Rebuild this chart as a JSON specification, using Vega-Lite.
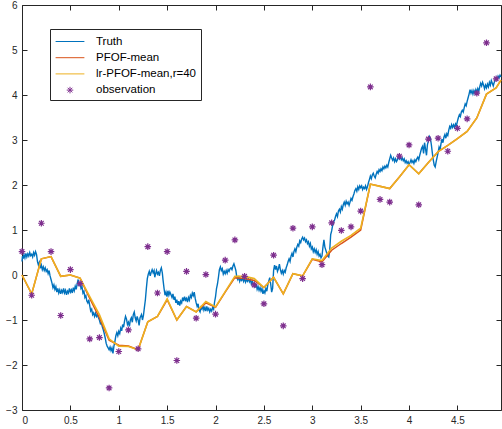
{
"$schema": "https://vega.github.io/schema/vega-lite/v6.json",
"width": 479, "height": 405,
"autosize": "none",
"padding": {"left": 22, "top": 5, "right": 1, "bottom": 19},
"background": "white",
"config": {
  "view": {"stroke": null},
  "font": "Liberation Sans",
  "axis": {"grid": false, "title": null, "domainColor": "#262626", "domainWidth": 1, "tickColor": "#262626", "tickWidth": 1, "tickSize": -5, "labelColor": "#262626", "labelFont": "Liberation Sans", "labelFontSize": 10, "format": "~g"},
  "legend": {"orient": "none", "legendX": 28, "legendY": 24, "title": null, "strokeColor": "#262626", "fillColor": "white", "padding": 4, "labelFont": "Liberation Sans", "labelFontSize": 11.5, "labelColor": "#000000", "symbolSize": 256, "symbolStrokeWidth": 1, "rowPadding": 2.2, "labelOffset": 17.5, "symbolOffset": 7.5}
},
"datasets": {
"truth": [
{"t":0.000,"y":0.30},{"t":0.005,"y":0.42},{"t":0.010,"y":0.36},{"t":0.020,"y":0.45},{"t":0.030,"y":0.38},{"t":0.040,"y":0.48},{"t":0.050,"y":0.40},{"t":0.060,"y":0.47},{"t":0.070,"y":0.42},{"t":0.080,"y":0.50},{"t":0.090,"y":0.43},{"t":0.100,"y":0.46},{"t":0.110,"y":0.40},{"t":0.120,"y":0.50},{"t":0.130,"y":0.44},{"t":0.140,"y":0.52},{"t":0.150,"y":0.46},{"t":0.160,"y":0.30},{"t":0.170,"y":0.22},{"t":0.180,"y":0.28},{"t":0.190,"y":0.15},{"t":0.200,"y":0.22},{"t":0.210,"y":0.12},{"t":0.220,"y":0.18},{"t":0.230,"y":0.10},{"t":0.240,"y":0.16},{"t":0.250,"y":0.08},{"t":0.260,"y":0.12},{"t":0.270,"y":0.03},{"t":0.280,"y":0.10},{"t":0.290,"y":-0.02},{"t":0.300,"y":-0.10},{"t":0.310,"y":-0.18},{"t":0.320,"y":-0.28},{"t":0.330,"y":-0.22},{"t":0.340,"y":-0.32},{"t":0.350,"y":-0.26},{"t":0.360,"y":-0.38},{"t":0.370,"y":-0.30},{"t":0.380,"y":-0.40},{"t":0.390,"y":-0.33},{"t":0.400,"y":-0.42},{"t":0.410,"y":-0.34},{"t":0.420,"y":-0.39},{"t":0.430,"y":-0.30},{"t":0.440,"y":-0.40},{"t":0.450,"y":-0.34},{"t":0.460,"y":-0.44},{"t":0.470,"y":-0.36},{"t":0.480,"y":-0.40},{"t":0.490,"y":-0.30},{"t":0.500,"y":-0.38},{"t":0.510,"y":-0.33},{"t":0.520,"y":-0.40},{"t":0.530,"y":-0.28},{"t":0.540,"y":-0.35},{"t":0.550,"y":-0.25},{"t":0.560,"y":-0.32},{"t":0.570,"y":-0.20},{"t":0.580,"y":-0.10},{"t":0.590,"y":-0.22},{"t":0.600,"y":-0.18},{"t":0.610,"y":-0.30},{"t":0.620,"y":-0.26},{"t":0.630,"y":-0.40},{"t":0.640,"y":-0.36},{"t":0.650,"y":-0.50},{"t":0.660,"y":-0.46},{"t":0.670,"y":-0.58},{"t":0.680,"y":-0.62},{"t":0.690,"y":-0.55},{"t":0.700,"y":-0.68},{"t":0.710,"y":-0.80},{"t":0.720,"y":-0.76},{"t":0.730,"y":-0.88},{"t":0.740,"y":-0.84},{"t":0.750,"y":-0.92},{"t":0.760,"y":-0.85},{"t":0.770,"y":-0.92},{"t":0.780,"y":-0.88},{"t":0.790,"y":-0.95},{"t":0.800,"y":-1.00},{"t":0.810,"y":-1.08},{"t":0.820,"y":-1.05},{"t":0.830,"y":-1.15},{"t":0.840,"y":-1.22},{"t":0.850,"y":-1.30},{"t":0.860,"y":-1.40},{"t":0.870,"y":-1.52},{"t":0.880,"y":-1.58},{"t":0.890,"y":-1.62},{"t":0.900,"y":-1.66},{"t":0.910,"y":-1.60},{"t":0.920,"y":-1.68},{"t":0.930,"y":-1.62},{"t":0.940,"y":-1.74},{"t":0.950,"y":-1.58},{"t":0.960,"y":-1.48},{"t":0.970,"y":-1.35},{"t":0.980,"y":-1.28},{"t":0.990,"y":-1.35},{"t":1.000,"y":-1.25},{"t":1.010,"y":-1.30},{"t":1.020,"y":-1.18},{"t":1.030,"y":-1.24},{"t":1.040,"y":-1.10},{"t":1.050,"y":-1.16},{"t":1.060,"y":-1.02},{"t":1.070,"y":-0.92},{"t":1.080,"y":-0.98},{"t":1.090,"y":-1.10},{"t":1.100,"y":-1.05},{"t":1.110,"y":-1.14},{"t":1.120,"y":-1.00},{"t":1.130,"y":-0.95},{"t":1.140,"y":-1.05},{"t":1.150,"y":-0.88},{"t":1.160,"y":-0.82},{"t":1.170,"y":-0.95},{"t":1.180,"y":-1.02},{"t":1.190,"y":-0.92},{"t":1.200,"y":-1.00},{"t":1.210,"y":-1.12},{"t":1.220,"y":-0.95},{"t":1.235,"y":-0.88},{"t":1.245,"y":-1.00},{"t":1.255,"y":-0.90},{"t":1.265,"y":-0.72},{"t":1.275,"y":-0.55},{"t":1.285,"y":-0.30},{"t":1.295,"y":-0.08},{"t":1.305,"y":0.02},{"t":1.315,"y":0.08},{"t":1.325,"y":-0.02},{"t":1.335,"y":0.06},{"t":1.345,"y":0.12},{"t":1.355,"y":0.05},{"t":1.365,"y":0.10},{"t":1.372,"y":-0.05},{"t":1.380,"y":0.02},{"t":1.390,"y":0.10},{"t":1.400,"y":0.02},{"t":1.410,"y":0.06},{"t":1.420,"y":-0.02},{"t":1.430,"y":0.10},{"t":1.440,"y":0.16},{"t":1.450,"y":0.05},{"t":1.458,"y":-0.12},{"t":1.468,"y":-0.30},{"t":1.478,"y":-0.45},{"t":1.488,"y":-0.38},{"t":1.498,"y":-0.48},{"t":1.508,"y":-0.35},{"t":1.518,"y":-0.45},{"t":1.528,"y":-0.38},{"t":1.540,"y":-0.44},{"t":1.550,"y":-0.50},{"t":1.560,"y":-0.42},{"t":1.570,"y":-0.55},{"t":1.580,"y":-0.48},{"t":1.590,"y":-0.62},{"t":1.600,"y":-0.55},{"t":1.610,"y":-0.66},{"t":1.620,"y":-0.58},{"t":1.630,"y":-0.68},{"t":1.640,"y":-0.58},{"t":1.650,"y":-0.62},{"t":1.660,"y":-0.50},{"t":1.670,"y":-0.58},{"t":1.680,"y":-0.48},{"t":1.690,"y":-0.56},{"t":1.700,"y":-0.52},{"t":1.710,"y":-0.60},{"t":1.720,"y":-0.50},{"t":1.730,"y":-0.56},{"t":1.740,"y":-0.45},{"t":1.750,"y":-0.50},{"t":1.760,"y":-0.40},{"t":1.770,"y":-0.46},{"t":1.780,"y":-0.38},{"t":1.790,"y":-0.52},{"t":1.800,"y":-0.62},{"t":1.810,"y":-0.70},{"t":1.820,"y":-0.64},{"t":1.830,"y":-0.78},{"t":1.840,"y":-0.82},{"t":1.850,"y":-0.72},{"t":1.860,"y":-0.76},{"t":1.870,"y":-0.68},{"t":1.880,"y":-0.78},{"t":1.890,"y":-0.72},{"t":1.900,"y":-0.80},{"t":1.910,"y":-0.70},{"t":1.920,"y":-0.78},{"t":1.930,"y":-0.74},{"t":1.940,"y":-0.82},{"t":1.950,"y":-0.76},{"t":1.960,"y":-0.80},{"t":1.970,"y":-0.72},{"t":1.980,"y":-0.76},{"t":1.990,"y":-0.60},{"t":2.000,"y":-0.48},{"t":2.010,"y":-0.30},{"t":2.020,"y":-0.20},{"t":2.030,"y":-0.05},{"t":2.040,"y":0.12},{"t":2.050,"y":0.18},{"t":2.060,"y":0.10},{"t":2.070,"y":0.14},{"t":2.080,"y":0.02},{"t":2.090,"y":0.08},{"t":2.100,"y":0.03},{"t":2.110,"y":0.10},{"t":2.120,"y":0.04},{"t":2.130,"y":0.12},{"t":2.140,"y":0.08},{"t":2.150,"y":0.14},{"t":2.160,"y":0.16},{"t":2.170,"y":0.12},{"t":2.180,"y":0.20},{"t":2.190,"y":0.25},{"t":2.200,"y":0.18},{"t":2.210,"y":0.10},{"t":2.220,"y":-0.05},{"t":2.230,"y":-0.10},{"t":2.240,"y":-0.02},{"t":2.250,"y":-0.14},{"t":2.260,"y":-0.08},{"t":2.270,"y":-0.12},{"t":2.280,"y":-0.06},{"t":2.290,"y":-0.14},{"t":2.300,"y":-0.08},{"t":2.310,"y":-0.16},{"t":2.320,"y":-0.10},{"t":2.330,"y":-0.14},{"t":2.340,"y":-0.08},{"t":2.350,"y":-0.15},{"t":2.360,"y":-0.10},{"t":2.370,"y":-0.20},{"t":2.380,"y":-0.14},{"t":2.390,"y":-0.22},{"t":2.400,"y":-0.18},{"t":2.410,"y":-0.28},{"t":2.420,"y":-0.20},{"t":2.430,"y":-0.32},{"t":2.440,"y":-0.26},{"t":2.450,"y":-0.34},{"t":2.460,"y":-0.28},{"t":2.470,"y":-0.36},{"t":2.480,"y":-0.30},{"t":2.490,"y":-0.42},{"t":2.500,"y":-0.35},{"t":2.510,"y":-0.40},{"t":2.520,"y":-0.30},{"t":2.530,"y":-0.36},{"t":2.540,"y":-0.22},{"t":2.550,"y":-0.14},{"t":2.560,"y":-0.06},{"t":2.570,"y":-0.20},{"t":2.580,"y":-0.38},{"t":2.590,"y":-0.30},{"t":2.600,"y":0.10},{"t":2.610,"y":0.22},{"t":2.620,"y":0.12},{"t":2.630,"y":0.20},{"t":2.640,"y":0.08},{"t":2.650,"y":0.14},{"t":2.660,"y":0.24},{"t":2.670,"y":0.12},{"t":2.680,"y":0.04},{"t":2.690,"y":0.10},{"t":2.700,"y":0.02},{"t":2.710,"y":0.10},{"t":2.720,"y":0.06},{"t":2.730,"y":0.16},{"t":2.740,"y":0.22},{"t":2.750,"y":0.30},{"t":2.760,"y":0.36},{"t":2.770,"y":0.30},{"t":2.780,"y":0.42},{"t":2.790,"y":0.48},{"t":2.800,"y":0.40},{"t":2.810,"y":0.52},{"t":2.820,"y":0.58},{"t":2.830,"y":0.52},{"t":2.840,"y":0.62},{"t":2.850,"y":0.68},{"t":2.860,"y":0.64},{"t":2.870,"y":0.76},{"t":2.880,"y":0.72},{"t":2.890,"y":0.80},{"t":2.900,"y":0.84},{"t":2.910,"y":0.78},{"t":2.920,"y":0.82},{"t":2.930,"y":0.74},{"t":2.940,"y":0.78},{"t":2.950,"y":0.70},{"t":2.960,"y":0.74},{"t":2.970,"y":0.64},{"t":2.980,"y":0.70},{"t":2.990,"y":0.58},{"t":3.000,"y":0.62},{"t":3.010,"y":0.52},{"t":3.020,"y":0.58},{"t":3.030,"y":0.50},{"t":3.040,"y":0.56},{"t":3.050,"y":0.46},{"t":3.060,"y":0.52},{"t":3.070,"y":0.42},{"t":3.080,"y":0.46},{"t":3.090,"y":0.38},{"t":3.100,"y":0.42},{"t":3.110,"y":0.62},{"t":3.120,"y":0.78},{"t":3.130,"y":0.62},{"t":3.140,"y":0.55},{"t":3.150,"y":0.48},{"t":3.160,"y":0.42},{"t":3.170,"y":0.40},{"t":3.180,"y":0.55},{"t":3.190,"y":0.90},{"t":3.200,"y":0.98},{"t":3.210,"y":1.10},{"t":3.220,"y":1.18},{"t":3.230,"y":1.22},{"t":3.240,"y":1.30},{"t":3.250,"y":1.36},{"t":3.260,"y":1.30},{"t":3.270,"y":1.42},{"t":3.280,"y":1.46},{"t":3.290,"y":1.40},{"t":3.300,"y":1.52},{"t":3.310,"y":1.46},{"t":3.320,"y":1.56},{"t":3.330,"y":1.62},{"t":3.340,"y":1.55},{"t":3.350,"y":1.64},{"t":3.360,"y":1.58},{"t":3.370,"y":1.62},{"t":3.380,"y":1.55},{"t":3.390,"y":1.62},{"t":3.400,"y":1.70},{"t":3.410,"y":1.66},{"t":3.420,"y":1.74},{"t":3.430,"y":1.80},{"t":3.440,"y":1.88},{"t":3.450,"y":1.92},{"t":3.460,"y":1.86},{"t":3.470,"y":1.96},{"t":3.480,"y":1.90},{"t":3.490,"y":1.98},{"t":3.500,"y":1.94},{"t":3.510,"y":1.98},{"t":3.520,"y":1.90},{"t":3.530,"y":1.95},{"t":3.540,"y":1.92},{"t":3.550,"y":1.98},{"t":3.560,"y":1.90},{"t":3.570,"y":1.96},{"t":3.580,"y":2.05},{"t":3.590,"y":2.12},{"t":3.600,"y":2.20},{"t":3.610,"y":2.14},{"t":3.620,"y":2.22},{"t":3.630,"y":2.26},{"t":3.640,"y":2.20},{"t":3.650,"y":2.16},{"t":3.660,"y":2.24},{"t":3.670,"y":2.30},{"t":3.680,"y":2.26},{"t":3.690,"y":2.34},{"t":3.700,"y":2.30},{"t":3.710,"y":2.36},{"t":3.720,"y":2.32},{"t":3.730,"y":2.40},{"t":3.740,"y":2.36},{"t":3.750,"y":2.42},{"t":3.760,"y":2.38},{"t":3.770,"y":2.44},{"t":3.780,"y":2.40},{"t":3.790,"y":2.50},{"t":3.800,"y":2.58},{"t":3.810,"y":2.66},{"t":3.820,"y":2.60},{"t":3.830,"y":2.55},{"t":3.840,"y":2.60},{"t":3.850,"y":2.52},{"t":3.860,"y":2.58},{"t":3.870,"y":2.52},{"t":3.880,"y":2.56},{"t":3.890,"y":2.64},{"t":3.900,"y":2.58},{"t":3.910,"y":2.62},{"t":3.920,"y":2.56},{"t":3.930,"y":2.60},{"t":3.940,"y":2.54},{"t":3.950,"y":2.58},{"t":3.960,"y":2.50},{"t":3.970,"y":2.54},{"t":3.980,"y":2.48},{"t":3.990,"y":2.52},{"t":4.000,"y":2.46},{"t":4.010,"y":2.50},{"t":4.020,"y":2.56},{"t":4.030,"y":2.50},{"t":4.040,"y":2.54},{"t":4.050,"y":2.48},{"t":4.060,"y":2.56},{"t":4.070,"y":2.52},{"t":4.080,"y":2.58},{"t":4.090,"y":2.62},{"t":4.100,"y":2.56},{"t":4.110,"y":2.66},{"t":4.120,"y":2.74},{"t":4.130,"y":2.82},{"t":4.140,"y":2.86},{"t":4.150,"y":2.70},{"t":4.160,"y":2.94},{"t":4.170,"y":2.80},{"t":4.180,"y":2.66},{"t":4.190,"y":2.90},{"t":4.200,"y":2.98},{"t":4.210,"y":3.08},{"t":4.220,"y":3.04},{"t":4.230,"y":2.90},{"t":4.240,"y":2.72},{"t":4.250,"y":2.56},{"t":4.260,"y":2.44},{"t":4.270,"y":2.40},{"t":4.280,"y":2.52},{"t":4.290,"y":2.62},{"t":4.300,"y":2.72},{"t":4.310,"y":2.84},{"t":4.320,"y":2.78},{"t":4.330,"y":2.92},{"t":4.340,"y":3.02},{"t":4.350,"y":2.94},{"t":4.360,"y":3.06},{"t":4.370,"y":3.12},{"t":4.380,"y":3.04},{"t":4.390,"y":3.14},{"t":4.400,"y":3.10},{"t":4.410,"y":3.22},{"t":4.420,"y":3.30},{"t":4.430,"y":3.26},{"t":4.440,"y":3.34},{"t":4.450,"y":3.28},{"t":4.460,"y":3.34},{"t":4.470,"y":3.28},{"t":4.480,"y":3.36},{"t":4.490,"y":3.32},{"t":4.500,"y":3.42},{"t":4.510,"y":3.50},{"t":4.520,"y":3.56},{"t":4.530,"y":3.52},{"t":4.540,"y":3.62},{"t":4.550,"y":3.66},{"t":4.560,"y":3.62},{"t":4.570,"y":3.72},{"t":4.580,"y":3.80},{"t":4.590,"y":3.76},{"t":4.600,"y":3.86},{"t":4.610,"y":3.94},{"t":4.620,"y":4.02},{"t":4.630,"y":4.12},{"t":4.640,"y":4.04},{"t":4.650,"y":4.10},{"t":4.660,"y":4.02},{"t":4.670,"y":4.10},{"t":4.680,"y":4.04},{"t":4.690,"y":4.12},{"t":4.700,"y":4.06},{"t":4.710,"y":4.14},{"t":4.720,"y":4.08},{"t":4.730,"y":4.18},{"t":4.740,"y":4.26},{"t":4.750,"y":4.20},{"t":4.760,"y":4.28},{"t":4.770,"y":4.22},{"t":4.780,"y":4.14},{"t":4.790,"y":4.22},{"t":4.800,"y":4.16},{"t":4.810,"y":4.24},{"t":4.820,"y":4.18},{"t":4.830,"y":4.28},{"t":4.840,"y":4.22},{"t":4.850,"y":4.32},{"t":4.860,"y":4.26},{"t":4.870,"y":4.20},{"t":4.880,"y":4.28},{"t":4.890,"y":4.34},{"t":4.900,"y":4.38},{"t":4.910,"y":4.34},{"t":4.920,"y":4.42},{"t":4.930,"y":4.38},{"t":4.940,"y":4.44},{"t":4.950,"y":4.40}
],
"pfof": [
{"t":0,"y":0.00},{"t":0.1,"y":-0.42},{"t":0.2,"y":0.36},{"t":0.3,"y":0.41},{"t":0.4,"y":-0.03},{"t":0.5,"y":0.00},{"t":0.6,"y":-0.07},{"t":0.7,"y":-0.52},{"t":0.8,"y":-0.95},{"t":0.9,"y":-1.45},{"t":1.0,"y":-1.56},{"t":1.1,"y":-1.58},{"t":1.2,"y":-1.66},{"t":1.3,"y":-1.04},{"t":1.4,"y":-0.92},{"t":1.5,"y":-0.55},{"t":1.6,"y":-1.00},{"t":1.7,"y":-0.70},{"t":1.8,"y":-0.82},{"t":1.9,"y":-0.62},{"t":2.0,"y":-0.72},{"t":2.1,"y":-0.38},{"t":2.2,"y":-0.06},{"t":2.3,"y":-0.08},{"t":2.4,"y":-0.12},{"t":2.5,"y":-0.28},{"t":2.6,"y":-0.05},{"t":2.7,"y":-0.42},{"t":2.8,"y":0.03},{"t":2.9,"y":-0.02},{"t":3.0,"y":0.35},{"t":3.1,"y":0.29},{"t":3.2,"y":0.55},{"t":3.3,"y":0.70},{"t":3.4,"y":0.84},{"t":3.5,"y":1.00},{"t":3.6,"y":2.02},{"t":3.7,"y":1.97},{"t":3.8,"y":1.92},{"t":3.9,"y":2.18},{"t":4.0,"y":2.45},{"t":4.1,"y":2.25},{"t":4.2,"y":2.50},{"t":4.3,"y":2.74},{"t":4.4,"y":2.88},{"t":4.5,"y":3.03},{"t":4.6,"y":3.19},{"t":4.7,"y":3.49},{"t":4.8,"y":4.02},{"t":4.9,"y":4.16},{"t":4.95,"y":4.33}
],
"lr": [
{"t":0,"y":0.00},{"t":0.1,"y":-0.42},{"t":0.2,"y":0.36},{"t":0.3,"y":0.41},{"t":0.4,"y":-0.03},{"t":0.5,"y":0.00},{"t":0.6,"y":-0.07},{"t":0.7,"y":-0.48},{"t":0.8,"y":-0.88},{"t":0.9,"y":-1.42},{"t":1.0,"y":-1.58},{"t":1.1,"y":-1.59},{"t":1.2,"y":-1.66},{"t":1.3,"y":-1.04},{"t":1.4,"y":-0.92},{"t":1.5,"y":-0.53},{"t":1.6,"y":-1.00},{"t":1.7,"y":-0.70},{"t":1.8,"y":-0.82},{"t":1.9,"y":-0.59},{"t":2.0,"y":-0.71},{"t":2.1,"y":-0.37},{"t":2.2,"y":-0.03},{"t":2.3,"y":-0.03},{"t":2.4,"y":-0.08},{"t":2.5,"y":-0.28},{"t":2.6,"y":-0.05},{"t":2.7,"y":-0.42},{"t":2.8,"y":0.03},{"t":2.9,"y":-0.02},{"t":3.0,"y":0.36},{"t":3.1,"y":0.32},{"t":3.2,"y":0.60},{"t":3.3,"y":0.75},{"t":3.4,"y":0.88},{"t":3.5,"y":1.04},{"t":3.6,"y":2.02},{"t":3.7,"y":1.97},{"t":3.8,"y":1.92},{"t":3.9,"y":2.18},{"t":4.0,"y":2.45},{"t":4.1,"y":2.25},{"t":4.2,"y":2.50},{"t":4.3,"y":2.74},{"t":4.4,"y":2.88},{"t":4.5,"y":3.03},{"t":4.6,"y":3.19},{"t":4.7,"y":3.49},{"t":4.8,"y":4.02},{"t":4.9,"y":4.16},{"t":4.95,"y":4.33}
],
"obs": [
{"t":0,"y":0.52},{"t":0.1,"y":-0.45},{"t":0.2,"y":1.15},{"t":0.3,"y":0.52},{"t":0.4,"y":-0.90},{"t":0.5,"y":0.12},{"t":0.6,"y":-0.19},{"t":0.7,"y":-1.42},{"t":0.8,"y":-1.39},{"t":0.9,"y":-2.51},{"t":1.0,"y":-1.70},{"t":1.1,"y":-1.22},{"t":1.2,"y":-1.64},{"t":1.3,"y":0.63},{"t":1.4,"y":-0.40},{"t":1.5,"y":0.52},{"t":1.6,"y":-1.90},{"t":1.7,"y":0.08},{"t":1.8,"y":-0.96},{"t":1.9,"y":0.01},{"t":2.0,"y":-0.87},{"t":2.1,"y":0.33},{"t":2.2,"y":0.78},{"t":2.3,"y":-0.03},{"t":2.4,"y":-0.22},{"t":2.5,"y":-0.64},{"t":2.6,"y":0.44},{"t":2.7,"y":-1.13},{"t":2.8,"y":1.04},{"t":2.9,"y":-0.08},{"t":3.0,"y":1.07},{"t":3.1,"y":0.23},{"t":3.2,"y":1.16},{"t":3.3,"y":0.99},{"t":3.4,"y":1.07},{"t":3.5,"y":1.42},{"t":3.6,"y":4.18},{"t":3.7,"y":1.68},{"t":3.8,"y":1.62},{"t":3.9,"y":2.64},{"t":4.0,"y":2.89},{"t":4.1,"y":1.56},{"t":4.2,"y":3.02},{"t":4.3,"y":3.04},{"t":4.4,"y":2.75},{"t":4.5,"y":3.26},{"t":4.6,"y":3.47},{"t":4.7,"y":4.04},{"t":4.8,"y":5.16},{"t":4.9,"y":4.36}
]
},
"resolve": {"axis": {"x": "independent", "y": "independent"}},
"layer": [
{
  "data": {"name": "truth"},
  "mark": {"type": "line", "strokeWidth": 1.4, "interpolate": "linear"},
  "encoding": {
    "x": {"field": "t", "type": "quantitative", "scale": {"domain": [0, 4.95], "nice": false, "zero": false}, "axis": {"orient": "bottom", "values": [0, 0.5, 1, 1.5, 2, 2.5, 3, 3.5, 4, 4.5], "labelPadding": 10}},
    "y": {"field": "y", "type": "quantitative", "scale": {"domain": [-3, 6], "nice": false, "zero": false}, "axis": {"orient": "left", "values": [-3, -2, -1, 0, 1, 2, 3, 4, 5, 6], "labelPadding": 10}},
    "color": {"datum": "Truth", "type": "nominal", "scale": {"domain": ["Truth", "PFOF-mean", "lr-PFOF-mean,r=40", "observation"], "range": ["#0072BD", "#D95319", "#EDB120", "#7E2F8E"]}, "legend": {"symbolStrokeWidth": 1, "encode": {"symbols": {"update": {"strokeWidth": {"value": 1}, "opacity": {"value": 1}}}}}}
  }
},
{
  "data": {"name": "pfof"},
  "mark": {"type": "line", "strokeWidth": 1.5},
  "encoding": {
    "x": {"field": "t", "type": "quantitative", "axis": null},
    "y": {"field": "y", "type": "quantitative", "axis": null},
    "color": {"datum": "PFOF-mean", "type": "nominal"}
  }
},
{
  "data": {"name": "lr"},
  "mark": {"type": "line", "strokeWidth": 1.6},
  "encoding": {
    "x": {"field": "t", "type": "quantitative", "axis": null},
    "y": {"field": "y", "type": "quantitative", "axis": null},
    "color": {"datum": "lr-PFOF-mean,r=40", "type": "nominal"}
  }
},
{
  "data": {"name": "obs"},
  "mark": {"type": "point", "filled": false, "size": 256, "strokeWidth": 1.2, "opacity": 1},
  "encoding": {
    "x": {"field": "t", "type": "quantitative", "axis": {"orient": "top", "labels": false, "values": [0, 0.5, 1, 1.5, 2, 2.5, 3, 3.5, 4, 4.5]}},
    "y": {"field": "y", "type": "quantitative", "axis": {"orient": "right", "labels": false, "values": [-3, -2, -1, 0, 1, 2, 3, 4, 5, 6]}},
    "color": {"datum": "observation", "type": "nominal"},
    "shape": {"datum": "observation", "type": "nominal", "scale": {"domain": ["Truth", "PFOF-mean", "lr-PFOF-mean,r=40", "observation"], "range": ["M-1.8,0L1.8,0", "M-1.8,0L1.8,0", "M-1.8,0L1.8,0", "M-0.41,0L0.41,0M0,-0.41L0,0.41M-0.29,-0.29L0.29,0.29M-0.29,0.29L0.29,-0.29"]}}
  }
}
]
}
